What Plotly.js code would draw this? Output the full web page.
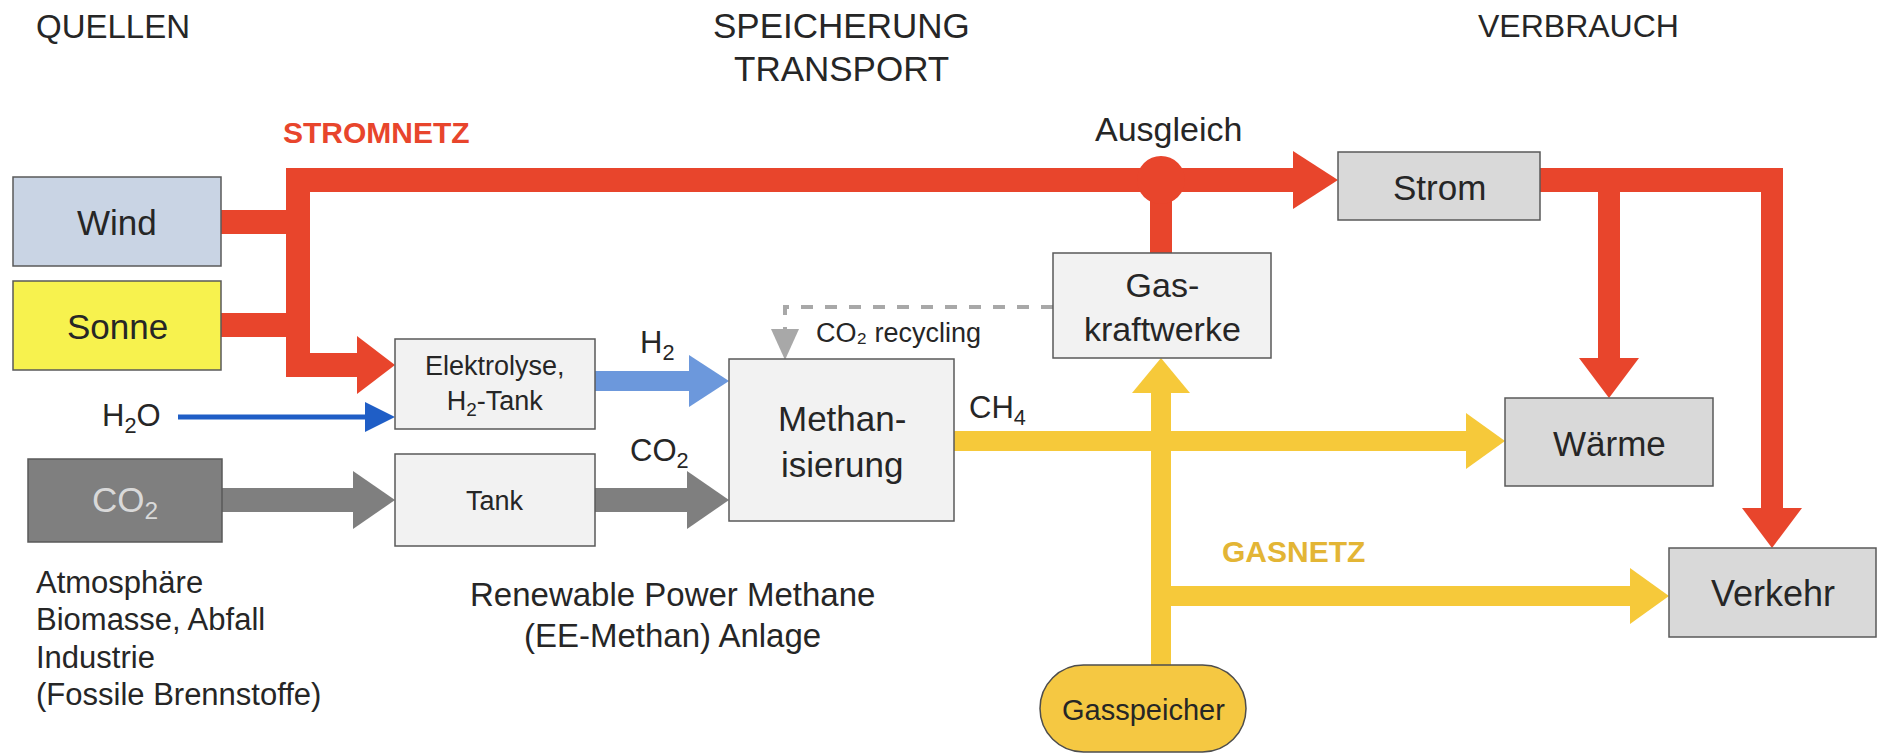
<!DOCTYPE html>
<html>
<head>
<meta charset="utf-8">
<script src="https://cdn.plot.ly/plotly-3.0.1.min.js"></script>
<style>
  html, body { margin: 0; padding: 0; background: #fff; }
  #chart { width: 1879px; height: 753px; }
</style>
</head>
<body>
<div id="chart"></div>
<script>
// ---- diagram content ----
const columnHeads  = ["QUELLEN", "SPEICHERUNG", "TRANSPORT", "VERBRAUCH"];
const nodeLabels   = ["Wind", "Sonne", "CO<sub>2</sub>", "Elektrolyse,<br>H<sub>2</sub>-Tank", "Tank",
                      "Methan-<br>isierung", "Gas-<br>kraftwerke", "Strom", "Wärme", "Verkehr", "Gasspeicher"];
const flowLabels   = ["H<sub>2</sub>O", "H<sub>2</sub>", "CO<sub>2</sub>", "CH<sub>4</sub>", "Ausgleich", "CO₂ recycling"];
const netLabels    = ["STROMNETZ", "GASNETZ"];
const sourceNotes  = ["Atmosphäre", "Biomasse, Abfall", "Industrie", "(Fossile Brennstoffe)"];
const plantCaption = ["Renewable Power Methane", "(EE-Methan) Anlage"];

// ---- geometry (pixel space of the picture) ----
const RED = "#e8452c", YEL = "#f6c93a", BLUE = "#6c98dc", DBLUE = "#1f5ec6", GREY = "#7f7f7f";
const TXT = "#262626", FONT = "Liberation Sans, Arial, sans-serif";

// x0, x1, y0, y1, fill, font size, text colour
const nodeBoxes = [
    [13, 221, 177, 266, "#c9d4e4", 35, TXT],
    [13, 221, 281, 370, "#f7f24e", 35, TXT],
    [28, 222, 459, 542, "#7f7f7f", 35, "#d9d9d9"],
    [395, 595, 339, 429, "#f2f2f2", 27, TXT],
    [395, 595, 454, 546, "#f2f2f2", 27, TXT],
    [729, 954, 359, 521, "#f2f2f2", 35, TXT],
    [1053, 1271, 253, 358, "#f2f2f2", 34, TXT],
    [1338, 1540, 152, 220, "#d9d9d9", 35, TXT],
    [1505, 1713, 398, 486, "#d9d9d9", 35, TXT],
    [1669, 1876, 548, 637, "#d9d9d9", 36, TXT],
    [1040, 1246, 665, 752, "#f5c842", 29, TXT]
];

const shapes = [];
const annotations = [];

function rect(x0, y0, x1, y1, color) {
    shapes.push({type: "rect", xref: "x", yref: "y", x0, y0, x1, y1,
                 fillcolor: color, line: {width: 0}, layer: "above"});
}
function poly(pts, color) {
    const d = "M " + pts.map(p => p[0] + " " + p[1]).join(" L ") + " Z";
    shapes.push({type: "path", path: d, fillcolor: color, line: {width: 0}, layer: "above"});
}
function headRight(base, tip, cy, half, color) { poly([[base, cy - half], [tip, cy], [base, cy + half]], color); }
function headVert(base, tip, cx, half, color)  { poly([[cx - half, base], [cx, tip], [cx + half, base]], color); }
function text(x, y, t, size, opts = {}) {
    annotations.push(Object.assign({
        x, y, xref: "x", yref: "y", text: t, showarrow: false,
        font: {family: FONT, size, color: TXT}, xanchor: "center", yanchor: "middle"
    }, opts));
}

// --- Stromnetz (red) ---
rect(286, 168, 1294, 192, RED);
rect(286, 168, 310, 377, RED);
rect(220, 210, 298, 234, RED);
rect(220, 313, 298, 337, RED);
rect(286, 353, 358, 377, RED);
headRight(357, 395, 365, 29, RED);
headRight(1293, 1338, 180, 29, RED);
rect(1150, 180, 1172, 253, RED);
shapes.push({type: "circle", x0: 1137, x1: 1185, y0: 156, y1: 204, fillcolor: RED, line: {width: 0}, layer: "above"});
rect(1540, 168, 1783, 192, RED);
rect(1761, 168, 1783, 509, RED);
headVert(508, 548, 1772, 30, RED);
rect(1598, 180, 1620, 359, RED);
headVert(358, 398, 1609, 30, RED);

// --- Gasnetz (yellow) ---
rect(953, 431, 1467, 451, YEL);
headRight(1466, 1505, 441, 28, YEL);
rect(1151, 392, 1171, 666, YEL);
headVert(393, 358, 1161, 29, YEL);
rect(1161, 586, 1631, 606, YEL);
headRight(1630, 1669, 596, 28, YEL);

// --- water / hydrogen (blue) ---
shapes.push({type: "line", x0: 178, x1: 368, y0: 417, y1: 417, line: {color: DBLUE, width: 5}, layer: "above"});
headRight(365, 395, 417, 15, DBLUE);
rect(595, 371, 690, 391, BLUE);
headRight(689, 729, 381, 26, BLUE);

// --- CO2 (grey) ---
rect(222, 488, 354, 512, GREY);
headRight(353, 395, 500, 29, GREY);
rect(595, 488, 688, 512, GREY);
headRight(687, 729, 500, 29, GREY);

// --- CO2 recycling (dashed) ---
shapes.push({type: "path", path: "M 1053 307 L 785 307 L 785 332",
             line: {color: "#a8a8a8", width: 4, dash: "dash"}, layer: "above"});
headVert(329, 360, 785, 14, "#a8a8a8");

// --- boxes ---
nodeBoxes.forEach((b, i) => {
    const [x0, x1, y0, y1, fill, size, col] = b;
    if (i === nodeBoxes.length - 1) {
        // Gasspeicher is a pill shape
        const r = (y1 - y0) / 2, k = r * 0.5523;
        const d = `M ${x0 + r} ${y0} L ${x1 - r} ${y0} C ${x1 - r + k} ${y0} ${x1} ${y0 + r - k} ${x1} ${y0 + r}` +
                  ` C ${x1} ${y1 - r + k} ${x1 - r + k} ${y1} ${x1 - r} ${y1} L ${x0 + r} ${y1}` +
                  ` C ${x0 + r - k} ${y1} ${x0} ${y1 - r + k} ${x0} ${y0 + r}` +
                  ` C ${x0} ${y0 + r - k} ${x0 + r - k} ${y0} ${x0 + r} ${y0} Z`;
        shapes.push({type: "path", path: d, fillcolor: fill, line: {color: "#4d4d4d", width: 1.5}, layer: "above"});
    } else {
        shapes.push({type: "rect", x0, x1, y0, y1, fillcolor: fill,
                     line: {color: "#5a5a5a", width: 1.5}, layer: "above"});
    }
    text((x0 + x1) / 2, (y0 + y1) / 2 + 1, nodeLabels[i], size, {font: {family: FONT, size, color: col}});
});

// --- headings and labels ---
text(34, 26, columnHeads[0], 33, {xanchor: "left"});
text(841, 25, columnHeads[1], 35);
text(841, 68, columnHeads[2], 35);
text(1578, 26, columnHeads[3], 32);

text(376, 132, netLabels[0], 30, {font: {family: FONT, size: 30, color: RED, weight: "bold"}});
text(1293, 551, netLabels[1], 30, {font: {family: FONT, size: 30, color: "#e3b535", weight: "bold"}});

text(131, 418, flowLabels[0], 31);
text(657, 345, flowLabels[1], 31);
text(659, 453, flowLabels[2], 31);
text(997, 410, flowLabels[3], 31);
text(1168, 129, flowLabels[4], 34);
text(814, 333, flowLabels[5], 27, {xanchor: "left",
     font: {family: "Liberation Sans Narrow, Liberation Sans, sans-serif", size: 27, color: TXT}});

sourceNotes.forEach((s, i) => text(34, 582 + i * 37.5, s, 31, {xanchor: "left"}));
text(672, 594, plantCaption[0], 33);
text(672, 635, plantCaption[1], 33);

Plotly.newPlot("chart", [], {
    width: 1879, height: 753,
    margin: {l: 0, r: 0, t: 0, b: 0},
    paper_bgcolor: "#ffffff", plot_bgcolor: "#ffffff",
    xaxis: {range: [0, 1879], visible: false, fixedrange: true},
    yaxis: {range: [753, 0], visible: false, fixedrange: true},
    showlegend: false,
    shapes, annotations
}, {staticPlot: true});
</script>
</body>
</html>
